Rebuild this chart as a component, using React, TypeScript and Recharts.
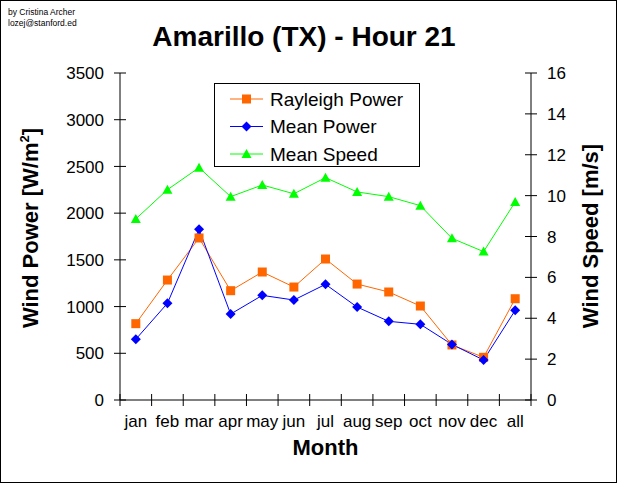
import React from "react";
import { ComposedChart, Line, XAxis, YAxis, Legend } from "recharts";

// page has an 8px default margin; the chart sits flush in the window
document.body.style.margin = "0";

const months = ["jan", "feb", "mar", "apr", "may", "jun", "jul", "aug", "sep", "oct", "nov", "dec", "all"];
const rayleighPower = [817, 1284, 1734, 1170, 1370, 1209, 1509, 1241, 1156, 1006, 589, 457, 1084];
const meanPower = [650, 1035, 1827, 920, 1120, 1070, 1238, 995, 842, 810, 595, 428, 960];
const meanSpeed = [8.86, 10.29, 11.37, 9.95, 10.52, 10.09, 10.88, 10.18, 9.95, 9.51, 7.91, 7.26, 9.69];
const powerTicks = [0, 500, 1000, 1500, 2000, 2500, 3000, 3500];
const speedTicks = [0, 2, 4, 6, 8, 10, 12, 14, 16];

const data = months.map((m, i) => ({
  month: m,
  rayleigh: rayleighPower[i],
  power: meanPower[i],
  speed: meanSpeed[i],
}));

const W = 618, H = 484;
const LEFT_W = 120, RIGHT_W = 87, TOP = 73, XAXIS_H = 84;
const BAND = (W - LEFT_W - RIGHT_W) / months.length;
const FONT = '"Liberation Sans", Arial, sans-serif';
const ORANGE = "#ff6600", BLUE = "#0000ff", GREEN = "#00ff00";

const Square = ({ cx, cy, fill }: any) => (
  <rect x={cx - 4.5} y={cy - 4.5} width={9} height={9} fill={fill} />
);
const Diamond = ({ cx, cy, fill }: any) => (
  <polygon points={`${cx},${cy - 5} ${cx + 5},${cy} ${cx},${cy + 5} ${cx - 5},${cy}`} fill={fill} />
);
const Triangle = ({ cx, cy, fill }: any) => (
  <polygon points={`${cx},${cy - 5} ${cx + 5},${cy + 4} ${cx - 5},${cy + 4}`} fill={fill} />
);

const series = [
  { key: "rayleigh", name: "Rayleigh Power", color: ORANGE, Mark: Square },
  { key: "power", name: "Mean Power", color: BLUE, Mark: Diamond },
  { key: "speed", name: "Mean Speed", color: GREEN, Mark: Triangle },
];

const LeftTick = ({ x, y, payload }: any) => {
  const ax = x + 16;
  return (
    <g>
      <line x1={ax - 6} x2={ax + 6} y1={y} y2={y} stroke="#000" />
      <text x={x} y={y} dy="0.36em" textAnchor="end" fontSize={17} fontFamily={FONT} fill="#000">{payload.value}</text>
    </g>
  );
};

const RightTick = ({ x, y, payload }: any) => {
  const ax = x - 16;
  return (
    <g>
      <line x1={ax - 6} x2={ax + 6} y1={y} y2={y} stroke="#000" />
      <text x={x} y={y} dy="0.36em" textAnchor="start" fontSize={17} fontFamily={FONT} fill="#000">{payload.value}</text>
    </g>
  );
};

const MonthTick = ({ x, y, payload, index }: any) => {
  const ay = y - 14;
  const right = x + BAND / 2;
  return (
    <g>
      {index === 0 && <line x1={x - BAND / 2} x2={x - BAND / 2} y1={ay - 6} y2={ay + 6} stroke="#000" />}
      <line x1={right} x2={right} y1={ay - 6} y2={ay + 6} stroke="#000" />
      <text x={x} y={y} dy={13} textAnchor="middle" fontSize={17} fontFamily={FONT} fill="#000">{payload.value}</text>
    </g>
  );
};

const LegendBox = () => (
  <div style={{ width: 206, height: 84, border: "1px solid #000", background: "#fff", boxSizing: "border-box" }}>
    <svg width={204} height={82} style={{ display: "block" }}>
      {series.map((s, i) => {
        const cy = 15 + i * 27.5;
        const Mark = s.Mark;
        return (
          <g key={s.key}>
            <line x1={15} x2={48} y1={cy} y2={cy} stroke={s.color} />
            <Mark cx={31.5} cy={cy} fill={s.color} />
            <text x={55} y={cy + 6.5} fontSize={19} fontFamily={FONT} fill="#000">{s.name}</text>
          </g>
        );
      })}
    </svg>
  </div>
);

export default function App() {
  return (
    <div style={{ position: "relative", width: W, height: H, background: "#fff" }}>
      <ComposedChart width={W} height={H} data={data} margin={{ top: TOP, right: 0, bottom: 0, left: 0 }}>
        <XAxis
          dataKey="month"
          scale="band"
          height={XAXIS_H}
          stroke="#000"
          tickLine={false}
          tickSize={6}
          tickMargin={8}
          interval={0}
          tick={<MonthTick />}
        />
        <YAxis
          yAxisId="power"
          domain={[0, 3500]}
          ticks={powerTicks}
          width={LEFT_W}
          stroke="#000"
          tickLine={false}
          tickSize={6}
          tickMargin={10}
          tick={<LeftTick />}
        />
        <YAxis
          yAxisId="speed"
          orientation="right"
          domain={[0, 16]}
          ticks={speedTicks}
          width={RIGHT_W}
          stroke="#000"
          tickLine={false}
          tickSize={6}
          tickMargin={10}
          tick={<RightTick />}
        />
        <Legend
          layout="vertical"
          align="center"
          verticalAlign="middle"
          content={<LegendBox />}
          wrapperStyle={{ left: 214, top: 83, width: 206, height: 84 }}
        />
        {series.map((s) => {
          const Mark = s.Mark;
          return (
            <Line
              key={s.key}
              yAxisId={s.key === "speed" ? "speed" : "power"}
              dataKey={s.key}
              name={s.name}
              stroke={s.color}
              strokeWidth={1}
              type="linear"
              isAnimationActive={false}
              dot={(p: any) => <Mark key={p.index} cx={p.cx} cy={p.cy} fill={s.color} />}
              activeDot={false}
            />
          );
        })}
      </ComposedChart>
      <svg width={W} height={H} style={{ position: "absolute", left: 0, top: 0, pointerEvents: "none" }}>
        <text x={8} y={15} fontSize={8.5} fontFamily={FONT}>by Cristina Archer</text>
        <text x={8} y={26} fontSize={8.5} fontFamily={FONT}>lozej@stanford.ed</text>
        <text x={304} y={46} textAnchor="middle" fontSize={28} fontWeight="bold" fontFamily={FONT}>Amarillo (TX) - Hour 21</text>
        <text x={325.5} y={455} textAnchor="middle" fontSize={22} fontWeight="bold" fontFamily={FONT}>Month</text>
        <text transform="translate(38,228) rotate(-90)" textAnchor="middle" fontSize={22} fontWeight="bold" fontFamily={FONT}>
          Wind Power [W/m<tspan dy={-9} fontSize={13}>2</tspan><tspan dy={9}>]</tspan>
        </text>
        <text transform="translate(598,236) rotate(-90)" textAnchor="middle" fontSize={22} fontWeight="bold" fontFamily={FONT}>
          Wind Speed [m/s]
        </text>
        <rect x={0.5} y={0.5} width={616} height={482} fill="none" stroke="#000" />
      </svg>
    </div>
  );
}
